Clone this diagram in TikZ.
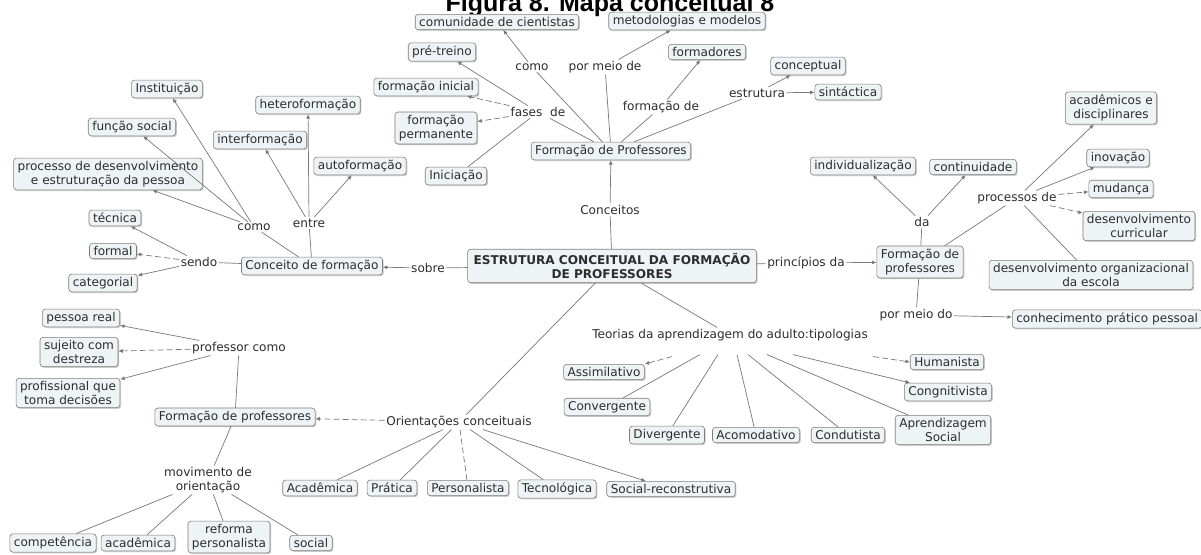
\documentclass[tikz,border=0pt]{standalone}
\usepackage{fontspec}
\setmainfont{DejaVu Sans}
\newfontfamily\titlefont{Liberation Sans}
\usetikzlibrary{shadows,arrows.meta}
\definecolor{boxfill}{RGB}{238,243,246}
\definecolor{boxline}{RGB}{125,125,125}
\definecolor{txt}{RGB}{45,45,45}
\definecolor{lnk}{RGB}{120,120,120}
\newcommand\nodefont{\fontsize{12.1}{14}\selectfont}
\tikzset{
 concept/.style={draw=boxline, fill=boxfill, rounded corners=3pt, inner xsep=4pt, inner ysep=3pt, align=center, font=\nodefont, text=txt, line width=0.6pt, drop shadow={shadow xshift=1.2pt, shadow yshift=-1.2pt, fill=black!40}},
 phrase/.style={inner sep=1.5pt, align=center, font=\nodefont, text=txt},
 con/.style={draw=lnk, line width=0.7pt},
 arr/.style={con, -{Latex[length=4.5pt,width=4pt]}},
 dsh/.style={dash pattern=on 6pt off 3pt}
}
\begin{document}
\begin{tikzpicture}[x=1pt,y=-1pt]
\useasboundingbox (0,0) rectangle (1201,554);
\fill[white] (0,0) rectangle (1201,554);
% title
\node[font=\titlefont\bfseries\fontsize{25}{25}\selectfont, anchor=base, inner sep=0pt] (title) at (610,12) {Figura 8. Mapa conceitual 8};
% top group
\node[concept] (fp) at (611,151) {Formação de Professores};
\node[concept] (comun) at (497,22) {comunidade de cientistas};
\node[concept] (metod) at (687,21) {metodologias e modelos};
\node[concept] (pre) at (442,52) {pré-treino};
\node[concept] (inicial) at (426,87) {formação inicial};
\node[concept] (perm) at (436,128) {formação\\permanente};
\node[concept] (inic) at (456,176) {Iniciação};
\node[concept] (formad) at (707,52) {formadores};
\node[concept] (concep) at (808,66) {conceptual};
\node[concept] (sint) at (848,92) {sintáctica};
\node[phrase] (como1) at (532,67) {como};
\node[phrase] (pmeio1) at (605,67) {por meio de};
\node[phrase] (fases) at (538,112) {fases~ de};
\node[phrase] (fde) at (661,107) {formação de};
\node[phrase] (estr) at (757,93) {estrutura};
% central
\node[concept, font=\nodefont\bfseries, inner ysep=4pt, inner xsep=6pt] (central) at (612,266) {ESTRUTURA CONCEITUAL DA FORMAÇÃO\\DE PROFESSORES};
\node[phrase] (conc) at (610,210) {Conceitos};
% left group
\node[concept] (cf) at (312,266) {Conceito de formação};
\node[phrase] (sobre) at (428,268) {sobre};
\node[phrase] (sendo) at (199,262) {sendo};
\node[concept] (tec) at (115,218) {técnica};
\node[concept] (formal) at (113,251) {formal};
\node[concept] (categ) at (103,283) {categorial};
\node[phrase] (como2) at (254,227) {como};
\node[concept] (inst) at (167,89) {Instituição};
\node[concept] (func) at (132,127) {função social};
\node[concept] (proc) at (108,174) {processo de desenvolvimento\\e estruturação da pessoa};
\node[phrase] (entre) at (309,223) {entre};
\node[concept] (hetero) at (308,105) {heteroformação};
\node[concept] (inter) at (260,140) {interformação};
\node[concept] (auto) at (360,166) {autoformação};
% right group
\node[phrase] (princ) at (806,263) {princípios da};
\node[concept] (fpr) at (920,262) {Formação de\\professores};
\node[phrase] (da) at (922,222) {da};
\node[concept] (indiv) at (863,166) {individualização};
\node[concept] (cont) at (973,167) {continuidade};
\node[phrase] (procs) at (1017,198) {processos de};
\node[concept] (acad) at (1111,108) {acadêmicos e\\disciplinares};
\node[concept] (inov) at (1118,158) {inovação};
\node[concept] (mud) at (1121,189) {mudança};
\node[concept] (curr) at (1139,226) {desenvolvimento\\curricular};
\node[concept] (org) at (1091,275) {desenvolvimento organizacional\\da escola};
\node[phrase] (pmeio2) at (916,315) {por meio do};
\node[concept, anchor=west] (conh) at (1012,319) {conhecimento prático pessoal};
% theories
\node[phrase] (teor) at (730,335) {Teorias da aprendizagem do adulto:tipologias};
\node[concept] (assim) at (604,372) {Assimilativo};
\node[concept] (conv) at (607,407) {Convergente};
\node[concept] (div) at (667,435) {Divergente};
\node[concept] (acom) at (756,435) {Acomodativo};
\node[concept] (cond) at (848,435) {Condutista};
\node[concept] (aprend) at (943,430) {Aprendizagem\\Social};
\node[concept] (cogn) at (948,392) {Congnitivista};
\node[concept] (human) at (947,362) {Humanista};
% orientations
\node[phrase] (orient) at (459,422) {Orientações conceituais};
\node[concept] (fpl) at (235,417) {Formação de professores};
\node[concept] (acad2) at (320,488) {Acadêmica};
\node[concept] (prat) at (392,488) {Prática};
\node[concept] (pers) at (468,488) {Personalista};
\node[concept] (tecn) at (557,489) {Tecnológica};
\node[concept] (socrec) at (671,489) {Social-reconstrutiva};
\node[phrase] (profc) at (239,348) {professor como};
\node[concept] (pessoa) at (81,318) {pessoa real};
\node[concept] (sujeito) at (79,352) {sujeito com\\destreza};
\node[concept] (profis) at (68,393) {profissional que\\toma decisões};
\node[phrase] (movim) at (208,480) {movimento de\\orientação};
\node[concept] (compet) at (53,543) {competência};
\node[concept] (acad3) at (138,543) {acadêmica};
\node[concept] (reforma) at (229,537) {reforma\\personalista};
\node[concept] (social) at (311,543) {social};
% ---- connectors
\draw[con] (central) -- (conc);
\draw[arr] (conc) -- (fp);
\draw[con] (fp) -- (como1);
\draw[arr] (como1) -- (comun);
\draw[con] (fp) -- (pmeio1);
\draw[arr] (pmeio1) -- (metod);
\draw[con] (fp) -- (fases);
\draw[arr] (fases) -- (pre);
\draw[arr,dsh] (fases) -- (inicial);
\draw[arr,dsh] (fases) -- (perm);
\draw[con] (fases) -- (inic);
\draw[con] (fp) -- (fde);
\draw[arr] (fde) -- (formad);
\draw[con] (fp) -- (estr);
\draw[arr] (estr) -- (concep);
\draw[arr] (estr) -- (sint);
\draw[con] (central) -- (sobre);
\draw[arr] (sobre) -- (cf);
\draw[con] (cf) -- (sendo);
\draw[arr] (sendo) -- (tec);
\draw[arr,dsh] (sendo) -- (formal);
\draw[arr] (sendo) -- (categ);
\draw[con] (cf) -- (como2);
\draw[arr] (como2) -- (inst);
\draw[arr] (como2) -- (func);
\draw[arr] (como2) -- (proc);
\draw[con] (cf) -- (entre);
\draw[arr] (entre) -- (hetero);
\draw[arr] (entre) -- (inter);
\draw[arr] (entre) -- (auto);
\draw[con] (central) -- (princ);
\draw[arr] (princ) -- (fpr);
\draw[con] (fpr) -- (da);
\draw[arr] (da) -- (indiv);
\draw[arr] (da) -- (cont);
\draw[con] (fpr) -- (procs);
\draw[arr] (procs) -- (acad);
\draw[arr] (procs) -- (inov);
\draw[arr,dsh] (procs) -- (mud);
\draw[arr,dsh] (procs) -- (curr);
\draw[con] (procs) -- (org);
\draw[con] (fpr) -- (pmeio2);
\draw[arr] (pmeio2) -- (conh);
\draw[con] (central) -- (teor);
\draw[arr,dsh] ([xshift=-58pt,yshift=-14pt]teor.south) -- (assim.north east);
\draw[con] ([xshift=-30pt,yshift=-12pt]teor.south) -- (conv);
\draw[con] ([xshift=-12pt,yshift=-12pt]teor.south) -- (div);
\draw[con] ([xshift=7pt,yshift=-12pt]teor.south) -- (acom);
\draw[con] ([xshift=18pt,yshift=-12pt]teor.south) -- (cond);
\draw[con] ([xshift=37pt,yshift=-12pt]teor.south) -- (aprend);
\draw[arr] ([xshift=63pt,yshift=-12pt]teor.south) -- (cogn);
\draw[arr,dsh] ([xshift=143pt,yshift=-14pt]teor.south) -- (human.west);
\draw[con] (central) -- (orient);
\draw[arr,dsh] (orient) -- (fpl);
\draw[con] (orient) -- (acad2);
\draw[con] (orient) -- (prat);
\draw[con,dsh] (orient) -- (pers);
\draw[con] (orient) -- (tecn);
\draw[arr] (orient) -- (socrec);
\draw[con] (fpl) -- (profc);
\draw[arr] (profc) -- (pessoa);
\draw[arr,dsh] (profc) -- (sujeito);
\draw[arr] (profc) -- (profis);
\draw[con] (fpl) -- (movim);
\draw[con] (movim) -- (compet);
\draw[con] (movim) -- (acad3);
\draw[con] (movim) -- (reforma);
\draw[con] (movim) -- (social);
\end{tikzpicture}
\end{document}
